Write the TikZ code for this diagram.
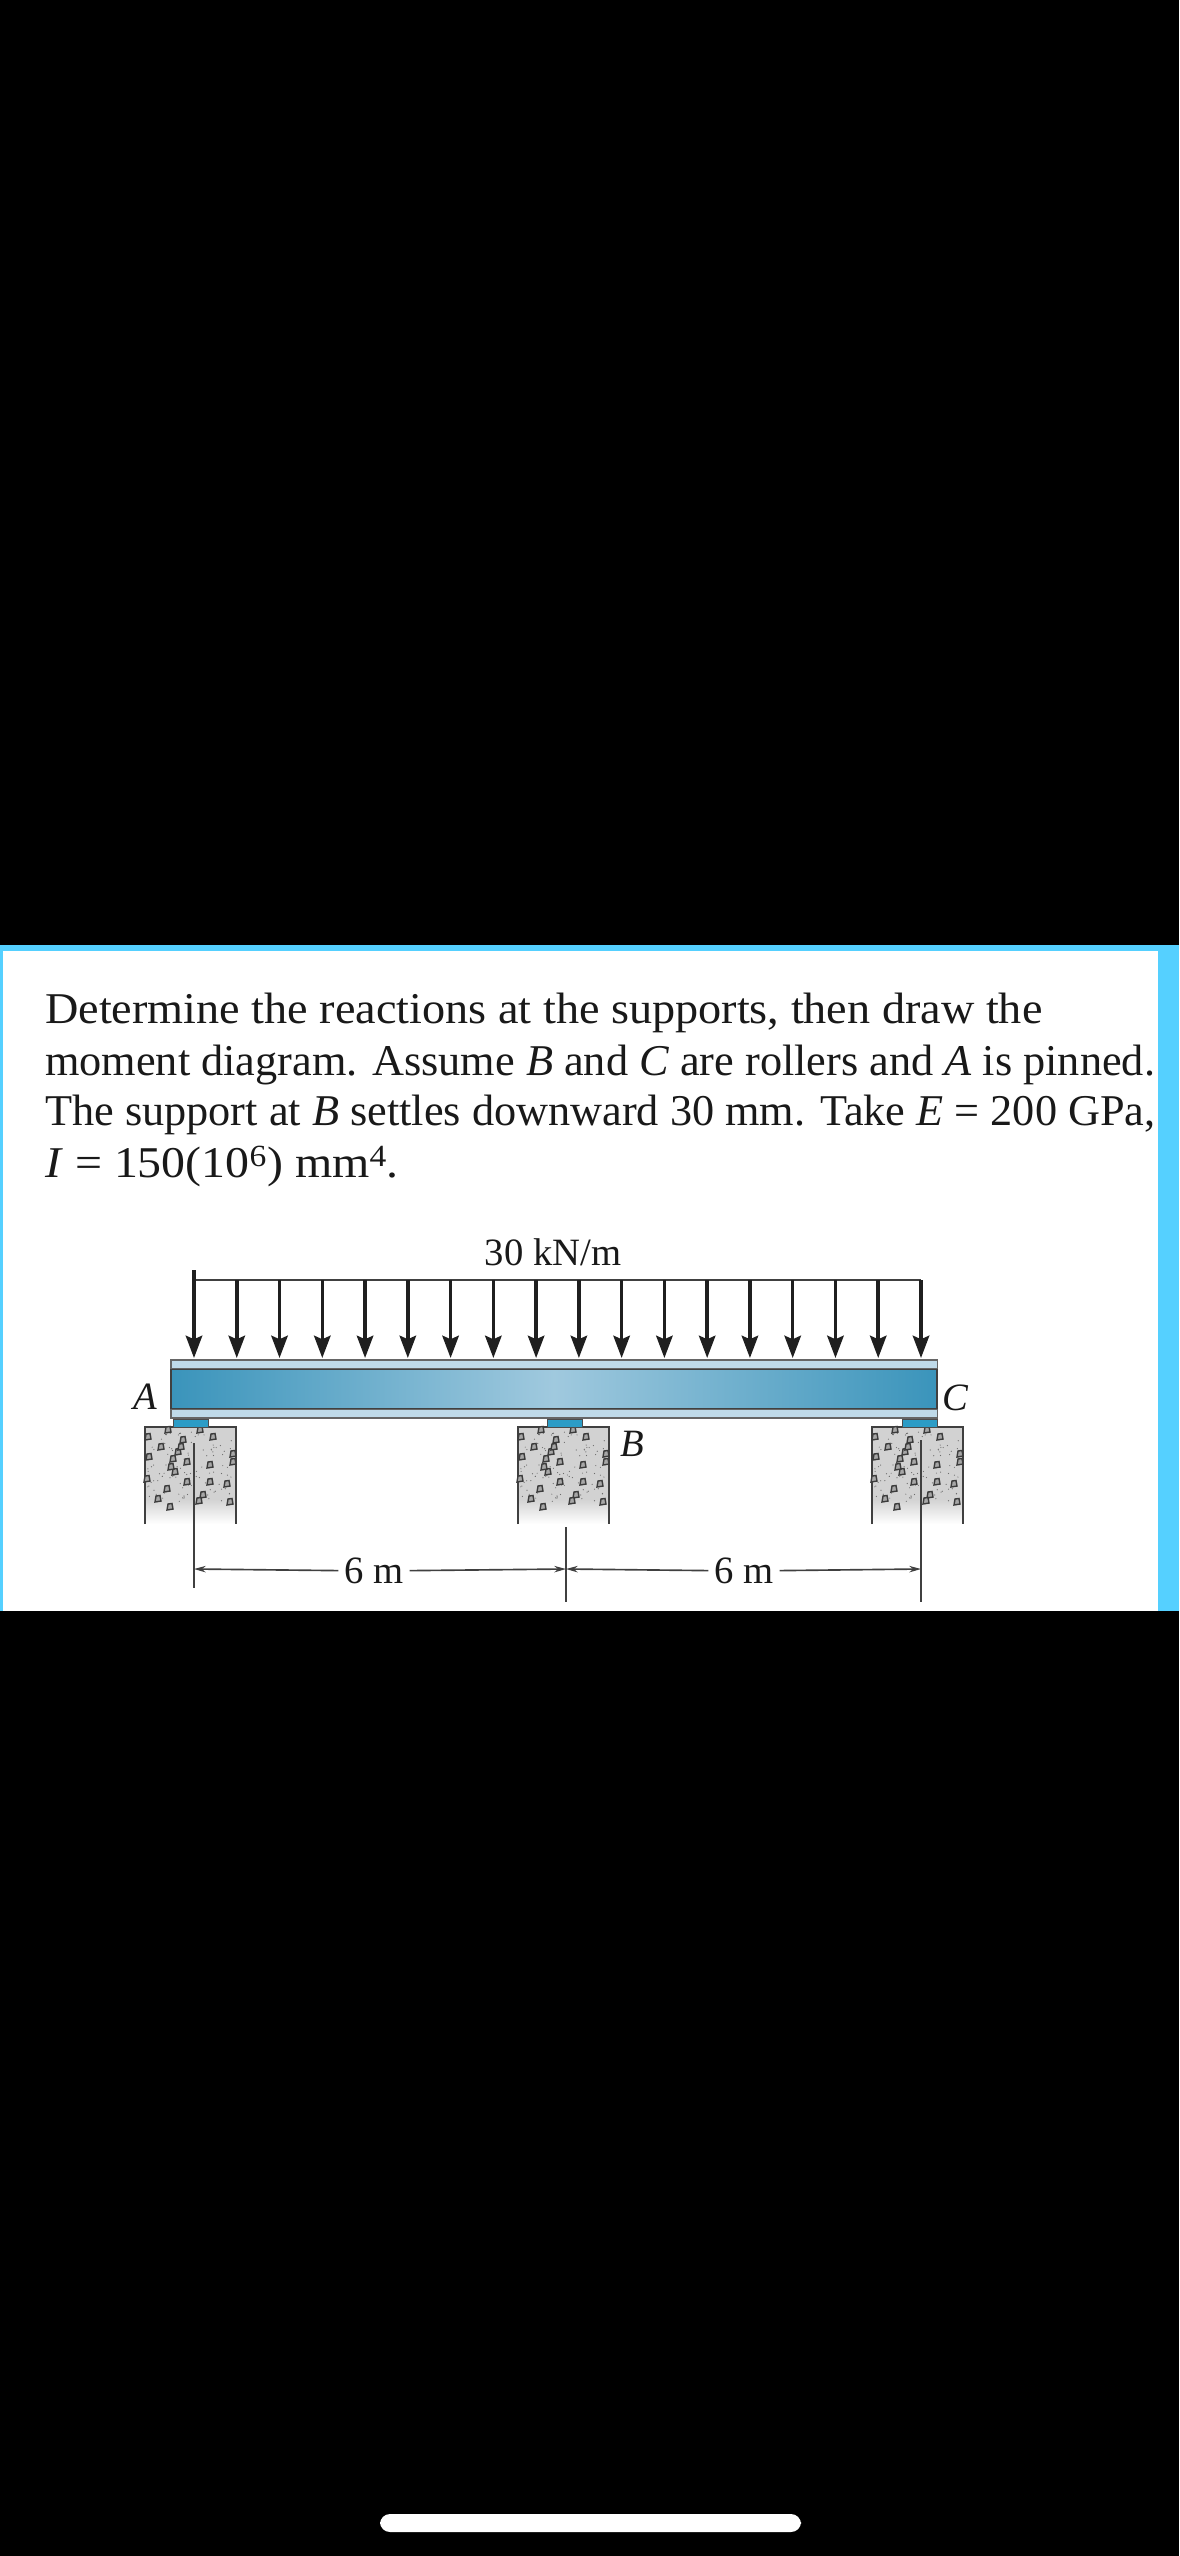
\documentclass[tikz,border=0pt]{standalone}
\usepackage{fontspec}
\setmainfont{Liberation Serif}
\usetikzlibrary{arrows.meta, calc}
\definecolor{screenblue}{HTML}{55D0FF}
\definecolor{flange}{HTML}{BFDAE9}
\definecolor{webend}{HTML}{3A94BB}
\definecolor{webmid}{HTML}{A0C9DE}
\definecolor{pad}{HTML}{2C9CC6}
\definecolor{stone}{HTML}{D2D2D2}
\definecolor{rock}{HTML}{3C3C3C}
\tikzstyle{textline}=[anchor=base west, inner sep=0pt, transform shape, font=\fontsize{37.5pt}{40pt}\selectfont, text=black!90]
\tikzstyle{label}=[inner sep=0pt, font=\fontsize{33pt}{36pt}\selectfont, text=black!90]
\tikzstyle{web}=[draw=black!75, line width=1.4pt, minimum width=22.98cm, minimum height=1.17cm, inner sep=0pt, left color=webend, right color=webend, middle color=webmid]
\tikzstyle{plate}=[draw=black!60, line width=0.9pt, fill=flange, minimum width=22.98cm, inner sep=0pt, minimum height=0.27cm]
\tikzstyle{pad}=[draw=black!70, line width=0.8pt, fill=pad, minimum width=1.05cm, minimum height=0.24cm, inner sep=0pt]
\tikzstyle{loadarrow}=[line width=3pt, black!88, -{Stealth[length=19pt, width=14pt, inset=3pt]}]
\tikzstyle{dimline}=[line width=1.4pt, black!75, -{Stealth[length=10pt, width=5.5pt]}]
\tikzstyle{extline}=[line width=1.4pt, black!75]
\tikzset{
    concrete/.pic={
        \fill[stone] (0, 0) rectangle (91, 72);
        \shade[top color=stone, bottom color=white] (0, 72) rectangle (91, 97);
        \draw[line width=1.4pt, black!75] (0, 97) -- (0, 0) -- (91, 0) -- (91, 97);
        \pgfmathsetseed{41}
        \foreach \i in {1,...,110}
            \fill[rock!75] ({2 + 87*rnd}, {3 + 72*rnd}) circle (0.6);
        \foreach \x/\y in {68/10, 38/13, 16/20, 3/10, 28/32, 42/35, 65/38, 88/27, 30/45, 42/55, 65/55, 82/57, 2/52, 22/62, 13/72, 58/68, 85/75, 25/80, 55/3, 23/3, 88/35, 33/25, 36/20, 26/40, 54/74, 4/30}
            \draw[rock, line width=1.2pt, fill=rock!45] (\x - 3, \y + 3) -- (\x - 2, \y - 3) -- (\x + 2, \y - 3.5) -- (\x + 3, \y + 2) -- cycle;
    }
}

\begin{document}
\begin{tikzpicture}[x=0.03cm, y=-0.03cm]
    \useasboundingbox (0, 0) rectangle (1179, 2556);
    \fill[black] (0, 0) rectangle (1179, 2556);
    \fill[screenblue] (0, 945) rectangle (1179, 1611);
    \fill[white] (3, 951) rectangle (1158, 1611);

    \node[textline, xscale=1.052] (line1) at (45, 1023) {Determine the reactions at the supports, then draw the};
    \node[textline, xscale=1.008] (line2) at (45, 1075) {moment diagram. Assume \textit{B} and \textit{C} are rollers and \textit{A} is pinned.};
    \node[textline, xscale=1.008] (line3) at (45, 1125) {The support at \textit{B} settles downward 30 mm. Take \textit{E} = 200 GPa,};
    \node[textline, xscale=1.09] (line4) at (45, 1177) {\textit{I} = 150(10\textsuperscript{6}) mm\textsuperscript{4}.};

    \fill[screenblue] (1158, 951) rectangle (1179, 1611);

    \pic at (145, 1427) {concrete};
    \pic at (518, 1427) {concrete};
    \pic at (872, 1427) {concrete};

    \node[pad] (padA) at (190.5, 1423) {};
    \node[pad] (padB) at (564.5, 1423) {};
    \node[pad] (padC) at (920, 1423) {};

    \node[plate] (top) at (554, 1364.5) {};
    \node[plate] (bottom) at (554, 1413.5) {};
    \node[web] (beam) at (554, 1389) {};

    \coordinate (loadA) at (194, 1280);
    \coordinate (loadC) at (921, 1280);
    \coordinate (tipA) at (194, 1358);
    \coordinate (tipC) at (921, 1358);
    \draw[line width=1.4pt, black!75] (loadA) -- (loadC);
    \draw[line width=3pt, black!88] (loadA) -- ++(0, -10);
    \foreach \i in {0,...,17}
        \draw[loadarrow] ($(loadA)!\i/17!(loadC)$) -- ($(tipA)!\i/17!(tipC)$);

    \node[label] (load) at (553, 1252) {30 kN/m};
    \node[label] (A) at (145, 1397) {\textit{A}};
    \node[label] (B) at (632, 1444) {\textit{B}};
    \node[label] (C) at (956, 1398) {\textit{C}};

    \coordinate (extA) at (194, 1443);
    \coordinate (extB) at (566, 1527);
    \coordinate (extC) at (921, 1440);
    \coordinate (dimA) at (194, 1569);
    \coordinate (dimB) at (566, 1569);
    \coordinate (dimC) at (921, 1569);
    \draw[extline] (extA) -- ++(0, 145);
    \draw[extline] (extB) -- ++(0, 75);
    \draw[extline] (extC) -- ++(0, 162);

    \node[label, fill=white, inner xsep=5pt] (spanAB) at (374, 1571) {6 m};
    \node[label, fill=white, inner xsep=5pt] (spanBC) at (744, 1571) {6 m};
    \draw[dimline] (spanAB) -- (dimA);
    \draw[dimline] (spanAB) -- (dimB);
    \draw[dimline] (spanBC) -- (dimB);
    \draw[dimline] (spanBC) -- (dimC);

    \fill[white, rounded corners=8.5] (380, 2514) rectangle (801, 2532);
\end{tikzpicture}
\end{document}
